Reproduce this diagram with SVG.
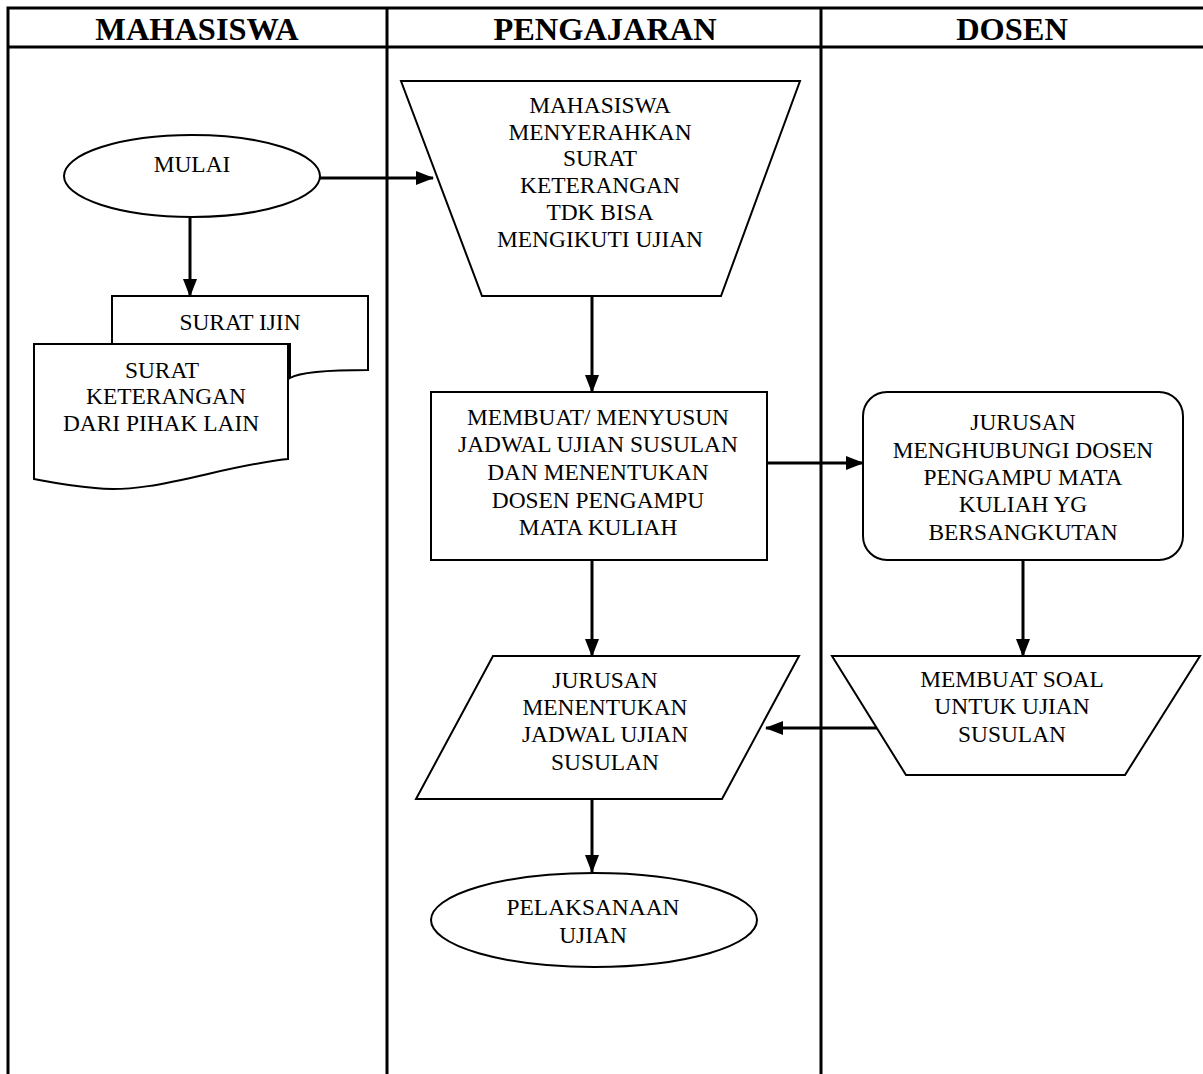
<svg xmlns="http://www.w3.org/2000/svg" width="1203" height="1074" viewBox="0 0 1203 1074">
<defs>
<marker id="ah" markerWidth="18" markerHeight="16" refX="17" refY="8" orient="auto" markerUnits="userSpaceOnUse" viewBox="0 0 18 16">
<path d="M0,1 L18,8 L0,15 z" fill="#000"/>
</marker>
<style>
.hd{font-family:"Liberation Serif",serif;font-weight:bold;font-size:32.4px;text-anchor:middle;fill:#000}
.t{font-family:"Liberation Serif",serif;font-size:23.4px;text-anchor:middle;fill:#000}
.n{fill:#fff;stroke:#000;stroke-width:2}
.c{fill:none;stroke:#000;stroke-width:3;marker-end:url(#ah)}
.g{fill:none;stroke:#000;stroke-width:3}
</style>
</defs>
<rect width="1203" height="1074" fill="#fff"/>
<g id="table">
<path class="g" d="M8,1074 V8 H1203 M8,47 H1203 M387,8 V1074 M821,8 V1074"/>
<text class="hd" x="197" y="40">MAHASISWA</text>
<text class="hd" x="605" y="40">PENGAJARAN</text>
<text class="hd" x="1012" y="40">DOSEN</text>
</g>
<g id="connectors">
<line class="c" x1="320" y1="178" x2="433" y2="178"/>
<line class="c" x1="190" y1="217" x2="190" y2="296"/>
<line class="c" x1="592" y1="296" x2="592" y2="392"/>
<line class="c" x1="767" y1="463" x2="863" y2="463"/>
<line class="c" x1="1023" y1="560" x2="1023" y2="656"/>
<line class="c" x1="880" y1="728" x2="766" y2="728"/>
<line class="c" x1="592" y1="560" x2="592" y2="656"/>
<line class="c" x1="592" y1="799" x2="592" y2="872"/>
</g>
<g id="mulai">
<ellipse class="n" cx="192" cy="176" rx="128" ry="41"/>
<text class="t" x="192" y="172">MULAI</text>
</g>
<g id="surat-ijin">
<path class="n" d="M112,296 H368 V370 C330,370 300,372 290,378 V344 H112 Z"/>
<text class="t" x="240" y="330">SURAT IJIN</text>
</g>
<g id="surat-keterangan">
<path class="n" d="M34,344 H288 V459 C220,466 150,495 95,488 C70,486 50,482 34,479 Z"/>
<text class="t" x="162" y="378">SURAT</text>
<text class="t" x="166" y="404">KETERANGAN</text>
<text class="t" x="161" y="431">DARI PIHAK LAIN</text>
</g>
<g id="menyerahkan">
<path class="n" d="M401,81 H800 L721,296 H482 Z"/>
<text class="t" x="600" y="113">MAHASISWA</text>
<text class="t" x="600" y="140">MENYERAHKAN</text>
<text class="t" x="600" y="166">SURAT</text>
<text class="t" x="600" y="193">KETERANGAN</text>
<text class="t" x="600" y="220">TDK BISA</text>
<text class="t" x="600" y="247">MENGIKUTI UJIAN</text>
</g>
<g id="menyusun">
<rect class="n" x="431" y="392" width="336" height="168"/>
<text class="t" x="598" y="425">MEMBUAT/ MENYUSUN</text>
<text class="t" x="598" y="452">JADWAL UJIAN SUSULAN</text>
<text class="t" x="598" y="480">DAN MENENTUKAN</text>
<text class="t" x="598" y="508">DOSEN PENGAMPU</text>
<text class="t" x="598" y="535">MATA KULIAH</text>
</g>
<g id="menghubungi">
<rect class="n" x="863" y="392" width="320" height="168" rx="24" ry="24"/>
<text class="t" x="1023" y="430">JURUSAN</text>
<text class="t" x="1023" y="458">MENGHUBUNGI DOSEN</text>
<text class="t" x="1023" y="485">PENGAMPU MATA</text>
<text class="t" x="1023" y="512">KULIAH YG</text>
<text class="t" x="1023" y="540">BERSANGKUTAN</text>
</g>
<g id="membuat-soal">
<path class="n" d="M832,656 H1200 L1125,775 H906 Z"/>
<text class="t" x="1012" y="687">MEMBUAT SOAL</text>
<text class="t" x="1012" y="714">UNTUK UJIAN</text>
<text class="t" x="1012" y="742">SUSULAN</text>
</g>
<g id="menentukan-jadwal">
<path class="n" d="M493,656 H799 L722,799 H416 Z"/>
<text class="t" x="605" y="688">JURUSAN</text>
<text class="t" x="605" y="715">MENENTUKAN</text>
<text class="t" x="605" y="742">JADWAL UJIAN</text>
<text class="t" x="605" y="770">SUSULAN</text>
</g>
<g id="pelaksanaan">
<ellipse class="n" cx="594" cy="920" rx="163" ry="47"/>
<text class="t" x="593" y="915">PELAKSANAAN</text>
<text class="t" x="593" y="943">UJIAN</text>
</g>
</svg>
